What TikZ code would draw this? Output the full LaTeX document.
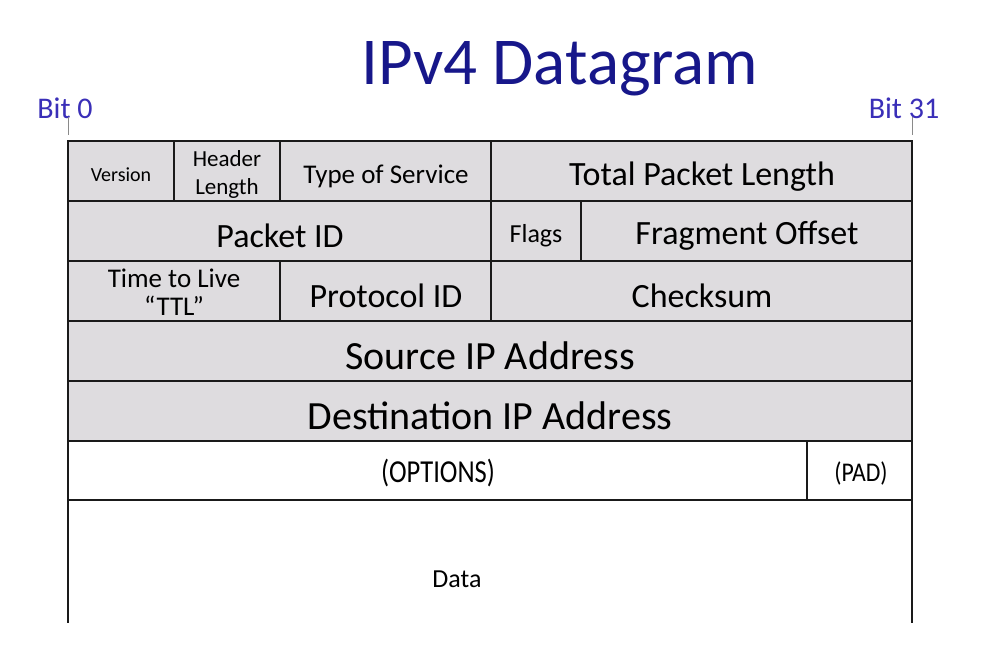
\documentclass[tikz,border=0pt]{standalone}
\usepackage{fontspec}
\setmainfont{Carlito}
\definecolor{cellgray}{HTML}{DEDCDF}
\definecolor{linec}{HTML}{1A1A1A}
\definecolor{titleblue}{HTML}{17178A}
\definecolor{bitblue}{HTML}{3A2FB8}
\definecolor{tickgray}{HTML}{8A8A8A}
\newcommand{\fsz}[1]{\fontsize{#1}{#1}\selectfont}
\begin{document}
\begin{tikzpicture}[x=1pt,y=-1pt,
  cell/.style={draw=linec, line width=2.8pt, fill=cellgray, inner sep=0pt, outer sep=0pt, anchor=north west, align=center, text=black},
  wcell/.style={cell, fill=white},
  lbl/.style={inner sep=0pt, text=black, align=center}]
\useasboundingbox[fill=white] (0,0) rectangle (984,660);
% title
\node[inner sep=0pt, text=titleblue, font=\fsz{67}, anchor=base] (title) at (560,85) {IPv4 Datagram};
% bit labels
\node[inner sep=0pt, text=bitblue, font=\fsz{30}, anchor=base] (bit0) at (65,119) {Bit 0};
\node[inner sep=0pt, text=bitblue, font=\fsz{30}, anchor=base] (bit31) at (904,119) {Bit 31};
\coordinate (t0a) at (68,117); \coordinate (t0b) at (68,135);
\coordinate (t31a) at (912,117); \coordinate (t31b) at (912,135);
\draw[tickgray, line width=1pt] (t0a) -- (t0b);
\draw[tickgray, line width=1pt] (t31a) -- (t31b);
% row 1
\node[cell, minimum width=106, minimum height=60] (ver) at (68,141) {};
\node[cell, minimum width=106, minimum height=60] (hl) at (174,141) {};
\node[cell, minimum width=211, minimum height=60] (tos) at (280,141) {};
\node[cell, minimum width=421, minimum height=60] (tpl) at (491,141) {};
% row 2
\node[cell, minimum width=423, minimum height=60] (pid) at (68,201) {};
\node[cell, minimum width=90, minimum height=60] (flg) at (491,201) {};
\node[cell, minimum width=331, minimum height=60] (fo) at (581,201) {};
% row 3
\node[cell, minimum width=212, minimum height=60] (ttl) at (68,261) {};
\node[cell, minimum width=211, minimum height=60] (prot) at (280,261) {};
\node[cell, minimum width=421, minimum height=60] (cks) at (491,261) {};
% row 4,5
\node[cell, minimum width=844, minimum height=60] (src) at (68,321) {};
\node[cell, minimum width=844, minimum height=60] (dst) at (68,381) {};
% row 6
\node[wcell, minimum width=739, minimum height=59] (opt) at (68,441) {};
\node[wcell, minimum width=105, minimum height=59] (pad) at (807,441) {};
% data sides
\coordinate (dla) at (68,500); \coordinate (dlb) at (68,623);
\coordinate (dra) at (912,500); \coordinate (drb) at (912,623);
\draw[linec, line width=2.8pt] (dla) -- (dlb);
\draw[linec, line width=2.8pt] (dra) -- (drb);
% labels
\node[lbl, font=\fsz{20}] (tver) at (121,175) {Version};
\node[lbl, font=\fontsize{23}{28}\selectfont] (thl) at (227,174) {Header\\Length};
\node[lbl, font=\fsz{27}] (ttos) at (386,176) {Type of Service};
\node[lbl, font=\fsz{34}] (ttpl) at (702,177) {Total Packet Length};
\node[lbl, font=\fsz{34}] (tpid) at (280,236) {Packet ID};
\node[lbl, font=\fsz{26}] (tflg) at (536,236) {Flags};
\node[lbl, font=\fsz{34}] (tfo) at (747,236) {Fragment Offset};
\node[lbl, font=\fontsize{27}{28}\selectfont] (tttl) at (174,292) {Time to Live\\“TTL”};
\node[lbl, font=\fsz{34}] (tprot) at (386,296) {Protocol ID};
\node[lbl, font=\fsz{34}] (tcks) at (702,296) {Checksum};
\node[lbl, font=\fsz{40}] (tsrc) at (490,356) {Source IP Address};
\node[lbl, font=\fsz{40}] (tdst) at (490,416) {Destination IP Address};
\node[lbl, font=\fsz{32}, xscale=0.83] (topt) at (438,473) {(OPTIONS)};
\node[lbl, font=\fsz{27}, xscale=0.88] (tpad) at (861,473) {(PAD)};
\node[lbl, font=\fsz{26}] (tdata) at (457,579) {Data};
\end{tikzpicture}
\end{document}
